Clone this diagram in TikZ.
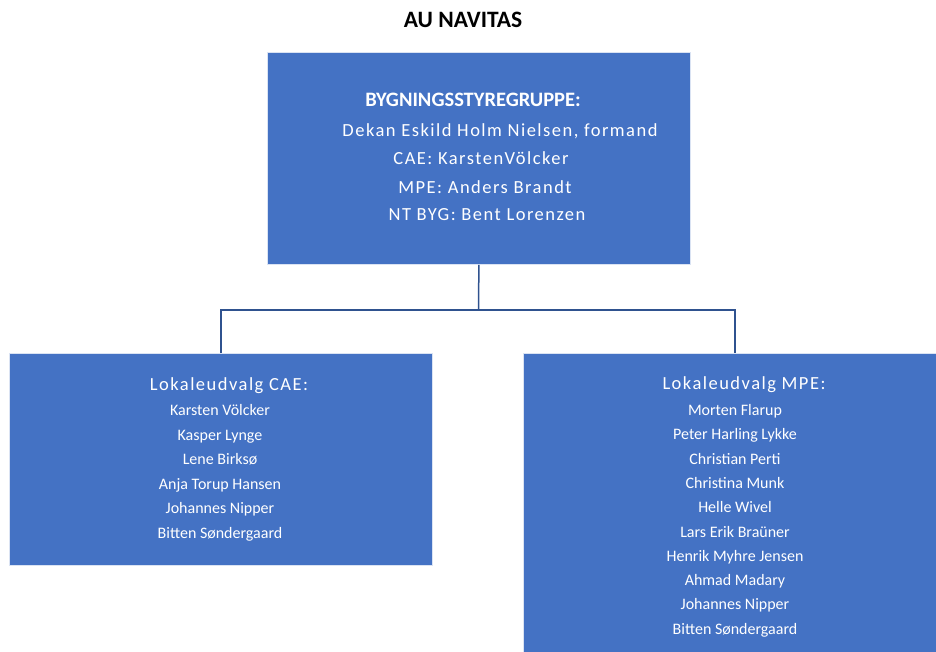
\documentclass[tikz,border=0pt]{standalone}
\usepackage{fontspec}
\setmainfont{Carlito}
\newfontfamily\spaced[LetterSpace=8]{Carlito}
\definecolor{boxblue}{HTML}{4472C4}
\definecolor{lineblue}{HTML}{2F528F}

\begin{document}
\begin{tikzpicture}[x=1pt, y=-1pt,
    box/.style={draw=white!80!boxblue, fill=boxblue, line width=0.8pt, anchor=north west, inner sep=0pt},
    member/.style={text=white, anchor=base, inner sep=0pt, font=\fontsize{16}{18}\selectfont},
    heading/.style={text=white, anchor=base, inner sep=0pt, font=\fontsize{18.5}{22}\selectfont\spaced},
    link/.style={draw=lineblue, line width=1.5pt}]
    \useasboundingbox (0,0) rectangle (936,651);
    \node[anchor=base, inner sep=0pt, font=\fontsize{23.5}{26}\selectfont\bfseries] (title) at (463,27.5) {AU NAVITAS};
    % boxes
    \node[box, minimum width=423pt, minimum height=212pt] (styre) at (267,52) {};
    \node[box, minimum width=423pt, minimum height=212pt] (cae) at (9,353) {};
    \node[box, minimum width=430pt, minimum height=320pt] (mpe) at (523,353) {};
    % top box
    \node[heading, font=\fontsize{20.5}{24}\selectfont\bfseries] (styrehead) at (473,106.5) {BYGNINGSSTYREGRUPPE:};
    \node[heading] (formand) at (500,136.5) {Dekan Eskild Holm Nielsen, formand};
    \node[heading] (styrecae) at (481,164.5) {CAE: KarstenVölcker};
    \node[heading] (styrempe) at (485,193.5) {MPE: Anders Brandt};
    \node[heading] (styrebyg) at (487,220.5) {NT BYG: Bent Lorenzen};
    % CAE
    \node[heading] (caehead) at (229,390.5) {Lokaleudvalg CAE:};
    \foreach \who [count=\i] in {Karsten Völcker, Kasper Lynge, Lene Birksø,
        Anja Torup Hansen, Johannes Nipper, Bitten Søndergaard}
      \node[member] (cae\i) at (220,{415.5+24.6*(\i-1)}) {\who};
    % MPE
    \node[heading] (mpehead) at (744,389.5) {Lokaleudvalg MPE:};
    \foreach \who [count=\i] in {Morten Flarup, Peter Harling Lykke, Christian Perti,
        Christina Munk, Helle Wivel, Lars Erik Braüner, Henrik Myhre Jensen,
        Ahmad Madary, Johannes Nipper, Bitten Søndergaard}
      \node[member] (mpe\i) at (735,{415.5+24.3*(\i-1)}) {\who};
    % connectors
    \coordinate (fork) at (478.5,310);
    \coordinate (caetop) at (221,353);
    \coordinate (mpetop) at (735,353);
    \draw[link] (styre.south) -- (fork);
    \draw[link] (caetop) |- (fork) -| (mpetop);
\end{tikzpicture}
\end{document}
